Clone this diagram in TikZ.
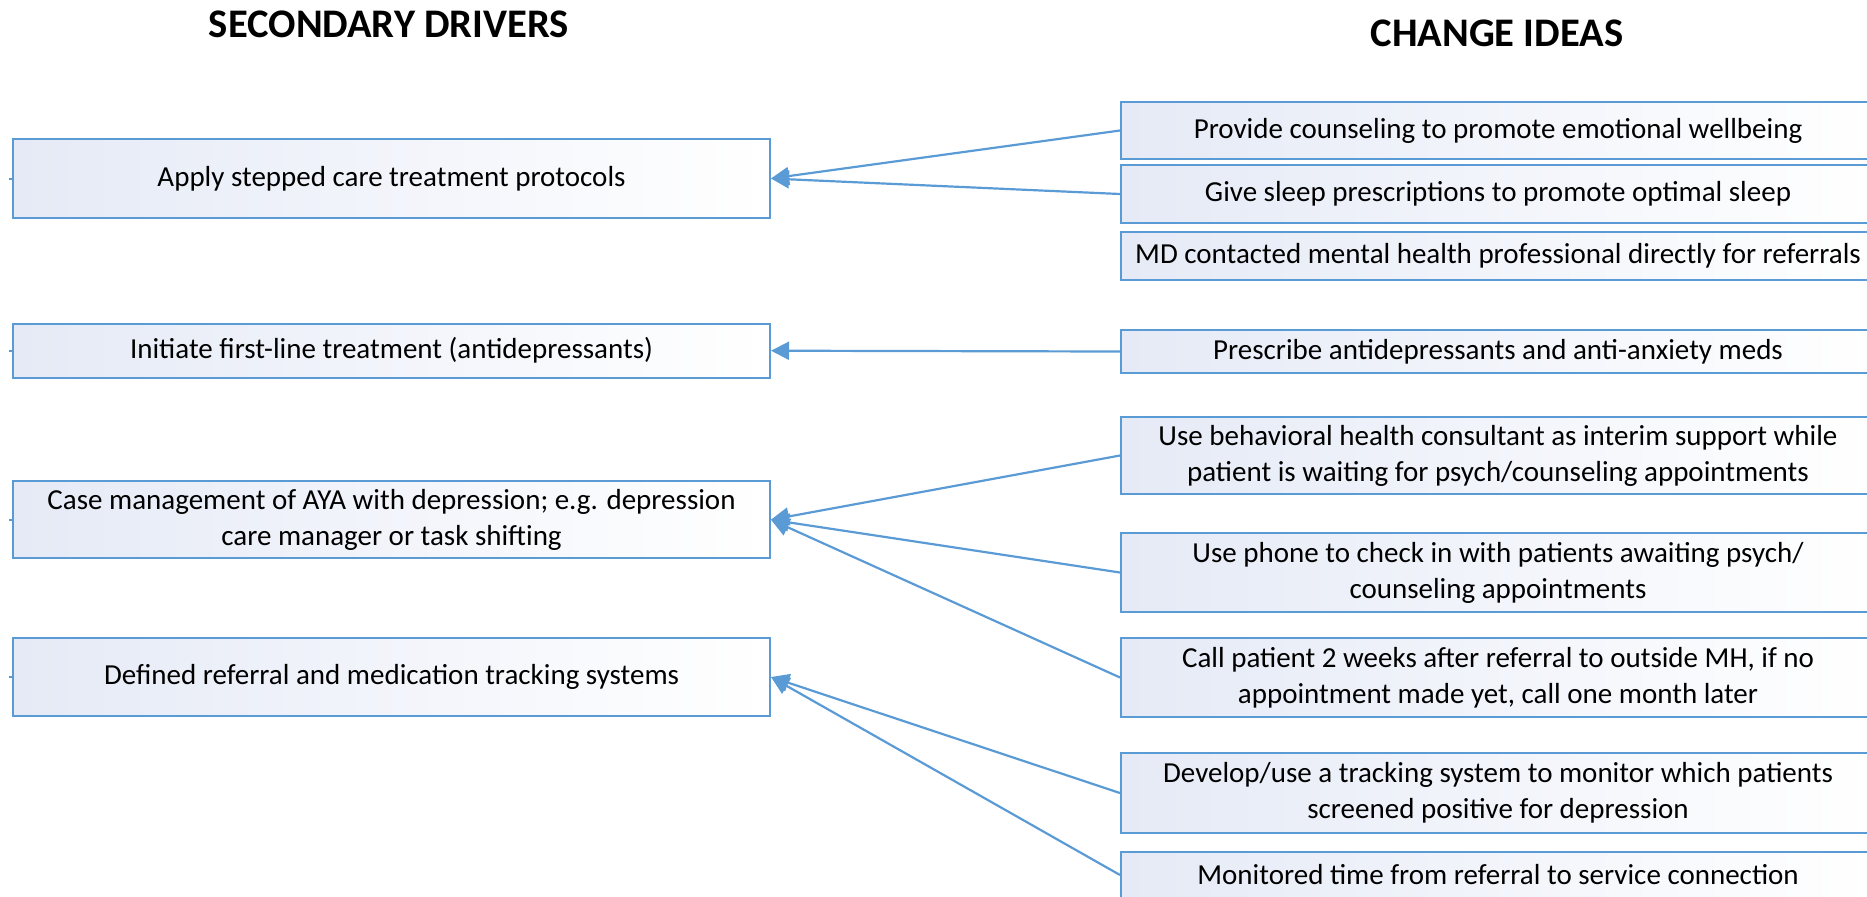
\documentclass[tikz,border=0pt]{standalone}
\usepackage{fontspec}
\setmainfont{Carlito}
\usepackage{tikz}
\usetikzlibrary{arrows.meta,positioning}
\definecolor{boxblue}{RGB}{91,155,213}
\definecolor{boxfill}{RGB}{229,234,246}

\begin{document}
\begin{tikzpicture}[x=0.5pt, y=-0.5pt,
    driver/.style={draw=boxblue, line width=1pt, left color=boxfill, right color=white,
        minimum width=378.5pt, inner sep=0pt, align=center, font=\fontsize{14.5}{18}\selectfont},
    idea/.style={driver, minimum width=377pt},
    heading/.style={font=\fontsize{20.3}{24}\selectfont\bfseries},
    feed/.style={draw=boxblue, line width=1.1pt, -{Triangle[length=9pt,width=9pt]}}]
    \useasboundingbox (0,0) rectangle (1867,896);
    \clip (0,0) rectangle (1867,896);
    % Column headings
    \node[heading] (hdrive) at (389,24) {SECONDARY DRIVERS};
    \node[heading] (hidea) at (1497,33) {CHANGE IDEAS};

    % Secondary drivers
    \node[driver, minimum height=39.5pt] (d1) at (391.5,178.5) {Apply stepped care treatment protocols};
    \node[driver, minimum height=26.8pt] (d2) at (391.5,350.7) {Initiate first-line treatment (antidepressants)};
    \node[driver, minimum height=38.7pt] (d3) at (391.5,519.7) {Case management of AYA with depression; e.g. depression\\care manager or task shifting};
    \node[driver, minimum height=39pt] (d4) at (391.5,677) {Defined referral and medication tracking systems};
    % stubs toward the primary drivers
    \foreach \d in {d1,d2,d3,d4}
        \draw[boxblue, line width=1pt] (\d.west) -- ++(-3,0);

    % Change ideas
    \node[idea, minimum height=28.5pt] (c1) at (1498,130.5) {Provide counseling to promote emotional wellbeing};
    \node[idea, minimum height=29pt] (c2) at (1498,194) {Give sleep prescriptions to promote optimal sleep};
    \node[idea, minimum height=24pt] (c3) at (1498,256) {MD contacted mental health professional directly for referrals};
    \node[idea, minimum height=21.5pt] (c4) at (1498,351.5) {Prescribe antidepressants and anti-anxiety meds};
    \node[idea, minimum height=38.5pt] (c5) at (1498,455.5) {Use behavioral health consultant as interim support while\\patient is waiting for psych/counseling appointments};
    \node[idea, minimum height=39.5pt] (c6) at (1498,572.5) {Use phone to check in with patients awaiting psych/\\counseling appointments};
    \node[idea, minimum height=39.5pt] (c7) at (1498,677.5) {Call patient 2 weeks after referral to outside MH, if no\\appointment made yet, call one month later};
    \node[idea, minimum height=40pt] (c8) at (1498,793) {Develop/use a tracking system to monitor which patients\\screened positive for depression};
    \node[idea, minimum height=23pt] (c9) at (1498,875) {Monitored time from referral to service connection};

    % Links from ideas to drivers
    \draw[feed] (c1.west) -- (d1.east);
    \draw[feed] (c2.west) -- (d1.east);
    \draw[feed] (c4.west) -- (d2.east);
    \foreach \c in {c5,c6,c7}
        \draw[feed] (\c.west) -- (d3.east);
    \draw[feed] (c8.west) -- (d4.east);
    \draw[feed] (c9.west) -- (d4.east);
\end{tikzpicture}
\end{document}
